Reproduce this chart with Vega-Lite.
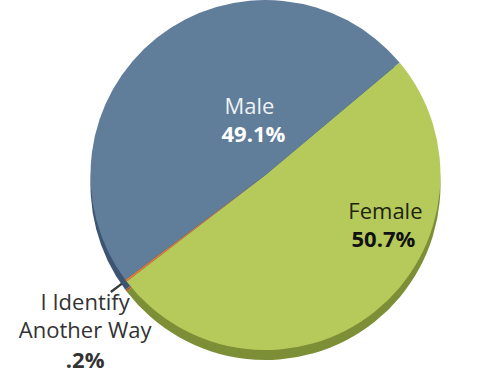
{
  "$schema": "https://vega.github.io/schema/vega-lite/v6.json",
  "width": 451,
  "height": 350,
  "autosize": "none",
  "padding": {"left": 40, "top": 0, "right": 0, "bottom": 26},
  "background": "white",
  "config": {"view": {"stroke": null}, "text": {"font": "Open Sans", "fontSize": 22}},
  "data": {"values": [
    {"gender": "Female", "pct": 50.7, "pctLabel": "50.7%"},
    {"gender": "I Identify Another Way", "pct": 0.2, "pctLabel": ".2%"},
    {"gender": "Male", "pct": 49.1, "pctLabel": "49.1%"}
  ]},
  "transform": [
    {"stack": "pct", "groupby": [], "sort": [{"field": "gender", "order": "ascending"}], "as": ["p0", "p1"]},
    {"calculate": "(datum.p0 + datum.p1) / 2", "as": "pmid"}
  ],
  "layer": [
    {
      "mark": {"type": "arc", "outerRadius": 175, "yOffset": 10},
      "encoding": {
        "theta": {"field": "p0", "type": "quantitative", "scale": {"domain": [0, 100], "range": [0.8727, 7.1559]}},
        "theta2": {"field": "p1"},
        "color": {"field": "gender", "type": "nominal", "legend": null,
          "scale": {"domain": ["Female", "I Identify Another Way", "Male"], "range": ["#7d8f36", "#a85a2a", "#3d5573"]}}
      }
    },
    {
      "mark": {"type": "arc", "outerRadius": 175},
      "encoding": {
        "theta": {"field": "p0", "type": "quantitative", "scale": {"domain": [0, 100], "range": [0.8727, 7.1559]}},
        "theta2": {"field": "p1"},
        "fill": {"field": "gender", "type": "nominal", "legend": null,
          "scale": {"domain": ["Female", "I Identify Another Way", "Male"], "range": ["#b6c95b", "#e27b35", "#607d9a"]}}
      }
    },
    {
      "transform": [{"filter": "datum.gender === 'I Identify Another Way'"}],
      "mark": {"type": "arc", "innerRadius": 180, "outerRadius": 194, "color": "#3a3a3a"},
      "encoding": {
        "theta": {"field": "p0", "type": "quantitative", "scale": {"domain": [0, 100], "range": [0.8727, 7.1559]}},
        "theta2": {"field": "p1"}
      }
    },
    {
      "transform": [{"filter": "datum.gender === 'Male'"}],
      "mark": {"type": "text", "radius": 71, "dx": 28, "dy": -12, "color": "#eef2f6", "fontWeight": "normal"},
      "encoding": {
        "theta": {"field": "pmid", "type": "quantitative", "scale": {"domain": [0, 100], "range": [0.8727, 7.1559]}},
        "text": {"field": "gender"}
      }
    },
    {
      "transform": [{"filter": "datum.gender === 'Male'"}],
      "mark": {"type": "text", "radius": 71, "dx": 32, "dy": 16, "color": "#ffffff", "fontWeight": "bold"},
      "encoding": {
        "theta": {"field": "pmid", "type": "quantitative", "scale": {"domain": [0, 100], "range": [0.8727, 7.1559]}},
        "text": {"field": "pctLabel"}
      }
    },
    {
      "transform": [{"filter": "datum.gender === 'Female'"}],
      "mark": {"type": "text", "radius": 67, "dx": 78, "dy": -15, "color": "#1d2410", "fontWeight": "normal"},
      "encoding": {
        "theta": {"field": "pmid", "type": "quantitative", "scale": {"domain": [0, 100], "range": [0.8727, 7.1559]}},
        "text": {"field": "gender"}
      }
    },
    {
      "transform": [{"filter": "datum.gender === 'Female'"}],
      "mark": {"type": "text", "radius": 67, "dx": 76, "dy": 13, "color": "#111111", "fontWeight": "bold"},
      "encoding": {
        "theta": {"field": "pmid", "type": "quantitative", "scale": {"domain": [0, 100], "range": [0.8727, 7.1559]}},
        "text": {"field": "pctLabel"}
      }
    },
    {
      "transform": [{"filter": "datum.gender === 'I Identify Another Way'"}],
      "mark": {"type": "text", "radius": 255, "dx": 23, "dy": -26, "color": "#333333", "fontWeight": "normal"},
      "encoding": {
        "theta": {"field": "pmid", "type": "quantitative", "scale": {"domain": [0, 100], "range": [0.8727, 7.1559]}},
        "text": {"value": "I Identify"}
      }
    },
    {
      "transform": [{"filter": "datum.gender === 'I Identify Another Way'"}],
      "mark": {"type": "text", "radius": 255, "dx": 23, "dy": 2, "color": "#333333", "fontWeight": "normal"},
      "encoding": {
        "theta": {"field": "pmid", "type": "quantitative", "scale": {"domain": [0, 100], "range": [0.8727, 7.1559]}},
        "text": {"value": "Another Way"}
      }
    },
    {
      "transform": [{"filter": "datum.gender === 'I Identify Another Way'"}],
      "mark": {"type": "text", "radius": 255, "dx": 23, "dy": 32, "color": "#333333", "fontWeight": "bold"},
      "encoding": {
        "theta": {"field": "pmid", "type": "quantitative", "scale": {"domain": [0, 100], "range": [0.8727, 7.1559]}},
        "text": {"field": "pctLabel"}
      }
    }
  ]
}
